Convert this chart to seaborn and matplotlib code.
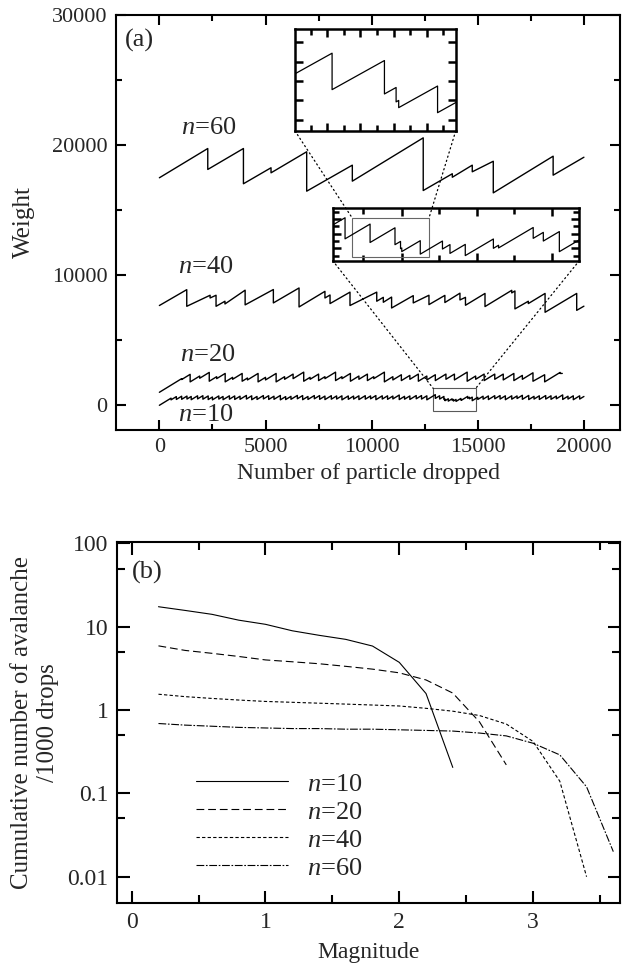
import numpy as np
import pandas as pd
import seaborn as sns
import matplotlib.pyplot as plt
from matplotlib.patches import Rectangle, ConnectionPatch
from matplotlib.ticker import MultipleLocator, FixedLocator, NullFormatter

# ---- (a) weight vs particles dropped, read off the figure as sawtooth corners
# each series: start point, avalanche positions with weight before / after, end point
n60_start, n60_end = (0, 17490), (20000, 19070)
n60_drop = [2280, 3960, 5260, 6940, 9090, 12430, 13800, 14740, 15730, 18550]
n60_before = [19740, 19740, 18260, 19490, 18460, 20560, 17800, 18460, 18760, 19150]
n60_after = [18130, 17030, 17870, 16460, 17230, 16510, 17530, 17950, 16330, 17690]

n40_start, n40_end = (0, 7670), (20000, 7620)
n40_drop = [1290, 2390, 2670, 3090, 4040, 5370, 6580, 7800, 8040, 8980, 10240, 10550,
            10940, 11960, 12700, 13450, 14160, 14420, 15340, 16600, 16750, 17380,
            18170, 19660]
n40_before = [8890, 8460, 8460, 8000, 8850, 8900, 9020, 8760, 8480, 8700, 8700, 8300,
              8320, 8430, 8460, 8450, 8620, 8300, 8600, 8840, 8790, 8000, 8600, 8600]
n40_after = [7610, 8250, 7610, 7790, 7720, 7870, 7560, 8250, 7820, 7670, 8000, 7920,
             7480, 7870, 7740, 7900, 8100, 7690, 7590, 8640, 7410, 7820, 7150, 7300]

n20_start, n20_end = (0, 1000), (18980, 2450)
n20_drop = [1050, 1450, 1900, 2350, 2700, 3100, 3450, 3900, 4150, 4650, 5000, 5500,
            5900, 6300, 6800, 7100, 7500, 7800, 8300, 8600, 9000, 9400, 9800, 10100,
            10600, 11000, 11400, 11800, 12200, 12600, 13000, 13500, 13900, 14500,
            14900, 15300, 15800, 16200, 16700, 17100, 17600, 18150, 18880]
n20_before = [2050, 2380, 2250, 2530, 2200, 2450, 2150, 2450, 2100, 2450, 2150, 2450,
              2200, 2400, 2550, 2150, 2400, 2200, 2550, 2200, 2450, 2250, 2400, 2200,
              2550, 2200, 2350, 2300, 2400, 2250, 2350, 2400, 2400, 2550, 2250, 2400,
              2400, 2400, 2450, 2300, 2500, 2350, 2530]
n20_after = [1980, 1800, 2080, 1850, 2050, 1800, 2000, 1850, 1950, 1800, 1950, 1800,
             2000, 2050, 1850, 2000, 1900, 2050, 1900, 2050, 1850, 2000, 1900, 2050,
             1800, 1950, 1900, 2000, 1850, 1950, 1900, 2000, 1950, 1850, 2000, 1900,
             2000, 1950, 1900, 2000, 1850, 1800, 2450]

n10_start, n10_end = (0, 0), (20000, 680)
n10_drop = [550, 800, 1050, 1300, 1500, 1800, 2050, 2300, 2500, 2800, 3000, 3300,
            3550, 3800, 4100, 4350, 4600, 4900, 5150, 5400, 5700, 5950, 6200, 6500,
            6750, 7000, 7300, 7550, 7800, 8100, 8350, 8600, 8900, 9150, 9400, 9700,
            9950, 10200, 10500, 10750, 11000, 11300, 11550, 11800, 12100, 12350, 12600,
            13000, 13203, 13405, 13450, 13460, 13610, 13790, 13851, 13975, 14203, 14245,
            14526, 14608, 14738, 15000, 15250, 15500, 15800, 16050, 16300, 16600, 16850,
            17100, 17400, 17650, 17900, 18200, 18450, 18700, 19000, 19250, 19500, 19800]
n10_before = [550, 670, 700, 710, 680, 730, 740, 720, 640, 720, 680, 730,
              720, 700, 760, 730, 680, 750, 740, 700, 760, 670, 690, 760,
              750, 680, 750, 750, 710, 740, 720, 730, 720, 710, 730, 740,
              720, 750, 730, 730, 710, 790, 690, 720, 750, 750, 730,
              820, 733, 682, 495, 405, 505, 500, 451, 454, 528, 442,
              686, 619, 630, 616, 700, 720, 740, 750, 730, 730, 720,
              770, 760, 690, 730, 750, 730, 710, 800, 700, 730, 730]
n10_after = [420, 450, 460, 480, 430, 490, 470, 440, 420, 480, 430, 470,
             450, 460, 480, 430, 450, 490, 450, 460, 420, 440, 460, 500,
             430, 450, 500, 460, 440, 470, 480, 420, 460, 480, 440, 470,
             500, 430, 480, 460, 490, 440, 470, 450, 500, 480, 420,
             530, 480, 450, 395, 355, 320, 390, 330, 300, 400, 405,
             537, 500, 354, 450, 470, 440, 500, 480, 430, 470, 520,
             460, 440, 480, 450, 480, 460, 500, 450, 480, 430, 480]

# ---- (b) cumulative number of avalanches per 1000 drops vs magnitude
n10_mag = [0.2, 0.4, 0.6, 0.8, 1.0, 1.2, 1.4, 1.6, 1.8, 2.0, 2.2, 2.4]
n10_cum = [17.4, 15.7, 14.1, 12.0, 10.7, 8.95, 7.9, 7.06, 5.87, 3.74, 1.58, 0.205]
n20_mag = [0.2, 0.4, 0.6, 0.8, 1.0, 1.2, 1.4, 1.6, 1.8, 2.0, 2.2, 2.4, 2.6, 2.8]
n20_cum = [5.9, 5.2, 4.8, 4.4, 4.0, 3.8, 3.6, 3.35, 3.1, 2.8, 2.3, 1.6, 0.72, 0.22]
n40_mag = [0.2, 0.4, 0.6, 0.8, 1.0, 1.2, 1.4, 1.6, 1.8, 2.0, 2.2, 2.4, 2.6, 2.8, 3.0,
           3.2, 3.4]
n40_cum = [1.55, 1.45, 1.38, 1.32, 1.27, 1.24, 1.21, 1.18, 1.15, 1.12, 1.05, 0.97,
           0.86, 0.68, 0.42, 0.14, 0.01]
n60_mag = [0.2, 0.4, 0.6, 0.8, 1.0, 1.2, 1.4, 1.6, 1.8, 2.0, 2.2, 2.4, 2.6, 2.8, 3.0,
           3.2, 3.4, 3.6]
n60_cum = [0.69, 0.66, 0.64, 0.62, 0.61, 0.60, 0.60, 0.59, 0.59, 0.58, 0.57, 0.56,
           0.53, 0.49, 0.40, 0.29, 0.12, 0.02]


def sawtooth(start, drop, before, after, end):
    xs, ys = [start[0]], [start[1]]
    for x, b, a in zip(drop, before, after):
        xs += [x, x]
        ys += [b, a]
    xs.append(end[0])
    ys.append(end[1])
    return pd.DataFrame({"x": xs, "w": ys})


sns.set_theme(style="ticks")
plt.rcParams["font.family"] = ["Liberation Serif", "DejaVu Serif"]
plt.rcParams["mathtext.fontset"] = "custom"
plt.rcParams["mathtext.it"] = "Liberation Serif:italic"
plt.rcParams["mathtext.rm"] = "Liberation Serif"

TICK = 16
LAB = 17
NLAB = 19

fig = plt.figure(figsize=(6.24, 9.76), dpi=100)
ax = fig.add_axes([0.186, 0.5594, 0.8076, 0.4252])
axb = fig.add_axes([0.1875, 0.0745, 0.8061, 0.3705])

series_a = {
    "60": sawtooth(n60_start, n60_drop, n60_before, n60_after, n60_end),
    "40": sawtooth(n40_start, n40_drop, n40_before, n40_after, n40_end),
    "20": sawtooth(n20_start, n20_drop, n20_before, n20_after, n20_end),
    "10": sawtooth(n10_start, n10_drop, n10_before, n10_after, n10_end),
}


def style_axes(a, width=1.5, major=7, minor=4.5, size=TICK):
    for s in a.spines.values():
        s.set_linewidth(width)
        s.set_color("black")
    a.tick_params(which="both", direction="in", top=True, right=True,
                  color="black", width=width, labelsize=size, pad=6)
    a.tick_params(which="major", length=major)
    a.tick_params(which="minor", length=minor)


for key, df in series_a.items():
    sns.lineplot(data=df, x="x", y="w", ax=ax, sort=False, estimator=None,
                 color="black", lw=1.0)

ax.set_xlim(-2040, 21700)
ax.set_ylim(-1900, 30000)
ax.xaxis.set_major_locator(MultipleLocator(5000))
ax.xaxis.set_minor_locator(MultipleLocator(2500))
ax.yaxis.set_major_locator(MultipleLocator(10000))
ax.yaxis.set_minor_locator(MultipleLocator(5000))
style_axes(ax)
ax.set_xlabel("Number of particle dropped", fontsize=LAB, labelpad=4)
ax.set_ylabel("Weight", fontsize=LAB + 1, labelpad=12)

lab_kw = dict(fontsize=NLAB, va="center", ha="left")
ax.text(1020, 21350, r"$n$=60", **lab_kw)
ax.text(880, 10630, r"$n$=40", **lab_kw)
ax.text(980, 3900, r"$n$=20", **lab_kw)
ax.text(880, -750, r"$n$=10", **lab_kw)
ax.text(-1615, 28080, "(a)", fontsize=NLAB, va="center", ha="left")

# grey box marking the zoomed part of n=10
box_x, box_y = (12900, 14900), (-450, 1300)
ax.add_patch(Rectangle((box_x[0], box_y[0]), box_x[1] - box_x[0], box_y[1] - box_y[0],
                       fill=False, ec="0.35", lw=0.8))

# wide inset
ins1 = fig.add_axes([0.5332, 0.7329, 0.3952, 0.0537])
sns.lineplot(data=series_a["10"], x="x", y="w", ax=ins1, sort=False, estimator=None,
             color="black", lw=0.9)
ins1.set_xlim(12900, 14900)
ins1.set_ylim(230, 950)
ins1.xaxis.set_major_locator(FixedLocator([13460, 14068, 14682]))
ins1.xaxis.set_minor_locator(FixedLocator([13149, 13765, 14374]))
ins1.yaxis.set_major_locator(MultipleLocator(200))
ins1.yaxis.set_minor_locator(MultipleLocator(100))
style_axes(ins1, width=1.8, major=6, minor=4)
ins1.set_xlabel("")
ins1.set_ylabel("")
ins1.xaxis.set_major_formatter(NullFormatter())
ins1.yaxis.set_major_formatter(NullFormatter())

grey_x, grey_y = (13060, 13680), (285, 812)
ins1.add_patch(Rectangle((grey_x[0], grey_y[0]), grey_x[1] - grey_x[0],
                         grey_y[1] - grey_y[0], fill=False, ec="0.4", lw=0.8))

# top inset
ins2 = fig.add_axes([0.4728, 0.8658, 0.2575, 0.1045])
sns.lineplot(data=series_a["10"], x="x", y="w", ax=ins2, sort=False, estimator=None,
             color="black", lw=0.9)
ins2.set_xlim(13060, 13680)
ins2.set_ylim(193, 901)
ins2.xaxis.set_major_locator(MultipleLocator(128))
ins2.xaxis.set_minor_locator(MultipleLocator(64))
ins2.yaxis.set_major_locator(MultipleLocator(135))
style_axes(ins2, width=1.8, major=6, minor=4)
ins2.set_xlabel("")
ins2.set_ylabel("")
ins2.xaxis.set_major_formatter(NullFormatter())
ins2.yaxis.set_major_formatter(NullFormatter())

dot = dict(ls=(0, (1, 2.5)), lw=0.9, color="black")
for fx, gx in [(0, grey_x[0]), (1, grey_x[1])]:
    fig.add_artist(ConnectionPatch(xyA=(fx, 0), coordsA=ins2.transAxes,
                                   xyB=(gx, grey_y[1]), coordsB=ins1.transData, **dot))
for fx, bx in [(0, box_x[0]), (1, box_x[1])]:
    fig.add_artist(ConnectionPatch(xyA=(fx, 0), coordsA=ins1.transAxes,
                                   xyB=(bx, box_y[1]), coordsB=ax.transData, **dot))

# ---- panel (b)
frames = []
for lab, m, c in [("10", n10_mag, n10_cum), ("20", n20_mag, n20_cum),
                  ("40", n40_mag, n40_cum), ("60", n60_mag, n60_cum)]:
    frames.append(pd.DataFrame({"mag": m, "cum": c, "n": r"$n$=" + lab}))
dfb = pd.concat(frames, ignore_index=True)

dash_map = {r"$n$=10": "", r"$n$=20": (7, 3.5), r"$n$=40": (3, 2),
            r"$n$=60": (7, 1.5, 1.5, 1.5)}
sns.lineplot(data=dfb, x="mag", y="cum", style="n", dashes=dash_map, ax=axb,
             color="black", lw=0.8, legend=False, sort=False, estimator=None)
axb.set_yscale("log")
axb.set_xlim(-0.11, 3.65)
axb.set_ylim(0.0048, 105)
axb.xaxis.set_major_locator(MultipleLocator(1))
axb.xaxis.set_minor_locator(MultipleLocator(0.5))
axb.yaxis.set_major_locator(FixedLocator([0.01, 0.1, 1, 10, 100]))
axb.yaxis.set_minor_locator(FixedLocator([0.05, 0.5, 5, 50]))
axb.yaxis.set_major_formatter(plt.FixedFormatter(["0.01", "0.1", "1", "10", "100"]))
axb.yaxis.set_minor_formatter(NullFormatter())
style_axes(axb, major=9, minor=6, size=TICK + 1)
axb.set_xlabel("Magnitude", fontsize=LAB, labelpad=7)
axb.set_ylabel("Cumulative number of avalanche\n/1000 drops", fontsize=LAB + 1,
               labelpad=6, linespacing=1.25)
axb.text(0.03, 0.915, "(b)", transform=axb.transAxes, fontsize=NLAB, va="center")

lines = axb.get_lines()[:4]
axb.legend(lines, [r"$n$=10", r"$n$=20", r"$n$=40", r"$n$=60"], frameon=False,
           loc="lower left", bbox_to_anchor=(0.11, 0.0), fontsize=NLAB,
           handlelength=3.5, handletextpad=0.7, labelspacing=0.17)

fig.savefig("out.png", dpi=100)
